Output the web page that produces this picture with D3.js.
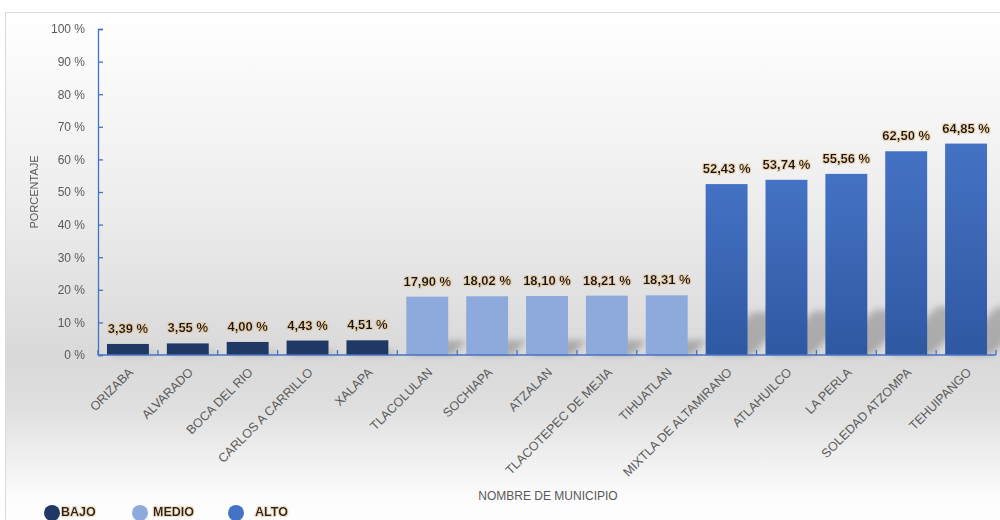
<!DOCTYPE html>
<html><head><meta charset="utf-8">
<script src="https://cdn.jsdelivr.net/npm/d3@7"></script>
<style>html,body{margin:0;padding:0;background:#fff;}svg{display:block;}</style>
</head><body>
<svg id="chart" width="1000" height="520"></svg>
<script>
const categories = ["ORIZABA","ALVARADO","BOCA DEL RIO","CARLOS A CARRILLO","XALAPA","TLACOLULAN","SOCHIAPA","ATZALAN","TLACOTEPEC DE MEJIA","TIHUATLAN","MIXTLA DE ALTAMIRANO","ATLAHUILCO","LA PERLA","SOLEDAD ATZOMPA","TEHUIPANGO"];
const values = [3.39,3.55,4.00,4.43,4.51,17.90,18.02,18.10,18.21,18.31,52.43,53.74,55.56,62.50,64.85];
const levels = ["BAJO","BAJO","BAJO","BAJO","BAJO","MEDIO","MEDIO","MEDIO","MEDIO","MEDIO","ALTO","ALTO","ALTO","ALTO","ALTO"];
const legendItems = ["BAJO","MEDIO","ALTO"];
const yTicks = [0,10,20,30,40,50,60,70,80,90,100];

(function(){
const svg = d3.select("#chart");
const defs = svg.append("defs");
const bg = defs.append("linearGradient").attr("id","bg").attr("x1",0).attr("y1",0).attr("x2",0).attr("y2",1);
[[0,"#ffffff"],[0.35,"#eeeeee"],[0.66,"#d9d9d9"],[0.76,"#dfdfdf"],[0.93,"#fcfcfc"],[1,"#ffffff"]].forEach(s=>bg.append("stop").attr("offset",s[0]).attr("stop-color",s[1]));
const ga = defs.append("linearGradient").attr("id","alto").attr("x1",0).attr("y1",0).attr("x2",0).attr("y2",1);
ga.append("stop").attr("offset",0).attr("stop-color","#4472c4");
ga.append("stop").attr("offset",1).attr("stop-color","#2f58a2");
defs.append("filter").attr("id","blur").attr("x","-50%").attr("y","-50%").attr("width","200%").attr("height","200%")
  .append("feGaussianBlur").attr("stdDeviation",3);
const glow = defs.append("filter").attr("id","glow").attr("x","-20%").attr("y","-40%").attr("width","140%").attr("height","180%");
glow.append("feMorphology").attr("in","SourceAlpha").attr("operator","dilate").attr("radius",0.6).attr("result","d");
glow.append("feFlood").attr("flood-color","#e9b878").attr("flood-opacity",0.45);
glow.append("feComposite").attr("in2","d").attr("operator","in").attr("result","g");
const fm = glow.append("feMerge"); fm.append("feMergeNode").attr("in","g"); fm.append("feMergeNode").attr("in","SourceGraphic");

const colorMap = {BAJO:"#1f3864", MEDIO:"#8eaadc", ALTO:"url(#alto)"};
const legendColor = {BAJO:"#1f3864", MEDIO:"#8eaadc", ALTO:"#4472c4"};

svg.append("rect").attr("x",5.5).attr("y",12.5).attr("width",1000).attr("height",520)
  .attr("fill","url(#bg)").attr("stroke","#d9d9d9");

const left = 98, right = 996, topY = 29, base = 355;
const x = d3.scaleBand().domain(categories).range([left,right]).paddingInner(0.3).paddingOuter(0.15);
const y = d3.scaleLinear().domain([0,100]).range([base,topY]);
const font = "'Liberation Sans', Arial, sans-serif";

// shadows
const sh = svg.append("g").attr("filter","url(#blur)");
categories.forEach((c,i)=>{
  const x0 = x(c), x1 = x(c)+x.bandwidth();
  const h = base - y(values[i]);
  const k = Math.min(h*0.25, 48);
  sh.append("path").attr("d",`M${x0+4},${base} L${x1+4},${base} L${x1+4+k},${base-k} L${x0+4+k},${base-k} Z`)
    .attr("fill","#000").attr("opacity",0.22);
});

// bars
svg.append("g").selectAll("rect").data(categories).join("rect")
  .attr("x",d=>x(d)).attr("width",x.bandwidth())
  .attr("y",(d,i)=>y(values[i])).attr("height",(d,i)=>base-y(values[i]))
  .attr("fill",(d,i)=>colorMap[levels[i]]);

// y axis
const ya = svg.append("g").attr("transform",`translate(${left},0)`)
  .call(d3.axisLeft(y).tickValues(yTicks).tickFormat(d=>d+" %").tickSizeInner(-5).tickSizeOuter(-5).tickPadding(13));
ya.selectAll("path,line").attr("stroke","#4472c4").attr("stroke-width",1.3);
ya.selectAll("text").attr("fill","#595959").attr("font-family",font).attr("font-size",12);

// x axis line + boundary ticks
svg.append("line").attr("x1",left).attr("x2",right).attr("y1",base).attr("y2",base).attr("stroke","#4472c4").attr("stroke-width",1.3);
const step = x.step();
const bounds = d3.range(categories.length+1).map(i=>left + i*step);
svg.append("g").selectAll("line").data(bounds).join("line")
  .attr("x1",d=>d).attr("x2",d=>d).attr("y1",base).attr("y2",base-5).attr("stroke","#4472c4").attr("stroke-width",1.3);

// x labels
svg.append("g").selectAll("text").data(categories).join("text")
  .attr("transform",d=>`translate(${x(d)+x.bandwidth()/2+6},${base+18}) rotate(-45)`)
  .attr("text-anchor","end").attr("fill","#595959").attr("font-family",font).attr("font-size",12.5)
  .text(d=>d);

// value labels
svg.append("g").attr("filter","url(#glow)").selectAll("text").data(categories).join("text")
  .attr("x",d=>x(d)+x.bandwidth()/2).attr("y",(d,i)=>y(values[i])-11)
  .attr("text-anchor","middle").attr("font-family",font).attr("font-weight","bold").attr("font-size",13).attr("fill","#141414")
  .text((d,i)=>values[i].toFixed(2).replace(".",",")+" %");

// axis titles
svg.append("text").attr("transform","translate(38,192) rotate(-90)").attr("text-anchor","middle")
  .attr("font-family",font).attr("font-size",11).attr("fill","#595959").text("PORCENTAJE");
svg.append("text").attr("x",548).attr("y",500).attr("text-anchor","middle")
  .attr("font-family",font).attr("font-size",12).attr("fill","#595959").text("NOMBRE DE MUNICIPIO");

// legend
const lx = [52,140,236], tx = [61,153,255];
const lg = svg.append("g");
legendItems.forEach((d,i)=>{
  lg.append("circle").attr("cx",lx[i]).attr("cy",513).attr("r",8).attr("fill",legendColor[d]);
  lg.append("text").attr("x",tx[i]).attr("y",516).attr("font-family",font).attr("font-weight","bold")
    .attr("font-size",12.5).attr("fill","#262626").attr("filter","url(#glow)").text(d);
});
})();
</script>
</body></html>
